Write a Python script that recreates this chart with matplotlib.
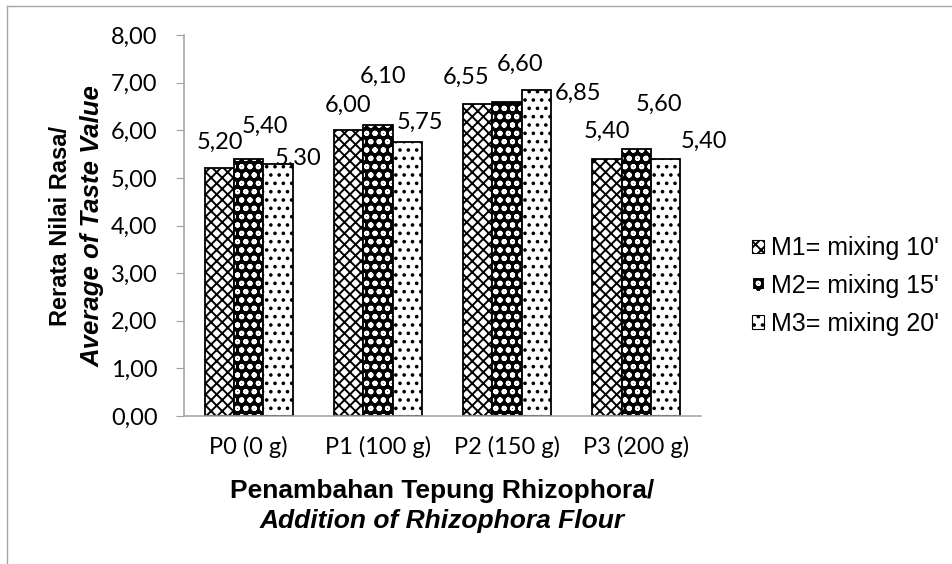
import matplotlib
matplotlib.use("Agg")
import matplotlib.pyplot as plt
import numpy as np
from matplotlib.lines import Line2D
from matplotlib.patches import Patch
from matplotlib.ticker import FuncFormatter

categories = ["P0 (0 g)", "P1 (100 g)", "P2 (150 g)", "P3 (200 g)"]
series_names = ["M1= mixing 10'", "M2= mixing 15'", "M3= mixing 20'"]
m1 = [5.20, 6.00, 6.55, 5.40]
m2 = [5.40, 6.10, 6.60, 5.60]
m3 = [5.30, 5.75, 6.85, 5.40]

# where Excel put each data label, in pixels from the bar top centre
label_offsets = [
    [(1, 26), (0, 25), (-12, 27), (0, 27)],
    [(16, 32), (5, 49), (13, 37), (23, 45)],
    [(20, 5), (13, 20), (42, -4), (38, 17)],
]

GREY = "#a0a0a0"
plt.rcParams["font.family"] = ["Lato", "DejaVu Sans"]
plt.rcParams["hatch.linewidth"] = 1.4


def comma(v, _pos=None):
    return f"{v:.2f}".replace(".", ",")


def plot():
    W, H = 953, 564
    fig = plt.figure(figsize=(W / 100, H / 100), dpi=100)
    ax = fig.add_axes([184 / W, 1 - 416 / H, (701 - 184) / W, (416 - 35) / H])

    x = np.arange(len(categories))
    w = 0.227
    styles = [
        dict(facecolor="white", edgecolor="black", hatch="xxx"),
        dict(facecolor="black", edgecolor="white", hatch="oo"),
        dict(facecolor="white", edgecolor="black", hatch=".."),
    ]
    handles = []
    for i, (vals, st) in enumerate(zip([m1, m2, m3], styles)):
        pos = x + (i - 1) * w
        ax.bar(pos, vals, w, linewidth=0, **st)
        ax.bar(pos, vals, w, facecolor="none", edgecolor="black", linewidth=1.3)
        for j, v in enumerate(vals):
            dx, dy = label_offsets[i][j]
            ax.annotate(comma(v), (pos[j], v), xytext=(dx, dy),
                        textcoords="offset pixels", ha="center", va="center",
                        fontsize=17)
        handles.append(Patch(linewidth=0.8, **st))

    ax.set_xlim(-0.5, len(categories) - 0.5)
    ax.set_ylim(0, 8)
    ax.set_yticks(np.arange(0, 9, 1))
    ax.yaxis.set_major_formatter(FuncFormatter(comma))
    ax.set_xticks(x)
    ax.set_xticklabels(categories)
    ax.tick_params(axis="y", length=5.5, pad=13.5, color=GREY, labelsize=17)
    ax.tick_params(axis="x", length=0, pad=14, labelsize=17)
    for s in ["top", "right"]:
        ax.spines[s].set_visible(False)
    for s in ["left", "bottom"]:
        ax.spines[s].set_color(GREY)
        ax.spines[s].set_linewidth(1.1)

    fig.legend(handles, series_names, loc="center left",
               bbox_to_anchor=(740 / W, 1 - 286 / H), frameon=False,
               prop={"family": "Liberation Sans", "size": 18},
               handlelength=0.45, handleheight=0.45, handletextpad=0.3,
               labelspacing=0.55, borderpad=0)

    title = dict(family="Liberation Sans", weight="bold")
    fig.text(442 / W, 1 - 498 / H, "Penambahan Tepung Rhizophora/",
             ha="center", va="baseline", fontsize=19, **title)
    fig.text(442 / W, 1 - 528 / H, "Addition of Rhizophora Flour",
             ha="center", va="baseline", fontsize=19, style="italic", **title)
    fig.text(67 / W, 1 - 226 / H, "Rerata Nilai Rasa/", rotation=90,
             rotation_mode="anchor", ha="center", va="baseline",
             fontsize=17, **title)
    fig.text(100 / W, 1 - 226 / H, "Average of Taste Value", rotation=90,
             rotation_mode="anchor", ha="center", va="baseline",
             fontsize=18.5, style="italic", **title)

    # outer chart border (only top and left edges are inside the picture)
    fig.add_artist(Line2D([7 / W, 7 / W], [0, 1 - 6 / H], transform=fig.transFigure,
                          color="#a6a6a6", lw=1))
    fig.add_artist(Line2D([7 / W, 1], [1 - 6 / H, 1 - 6 / H], transform=fig.transFigure,
                          color="#a6a6a6", lw=1))

    fig.savefig("out.png", dpi=100)


if __name__ == "__main__":
    plot()
